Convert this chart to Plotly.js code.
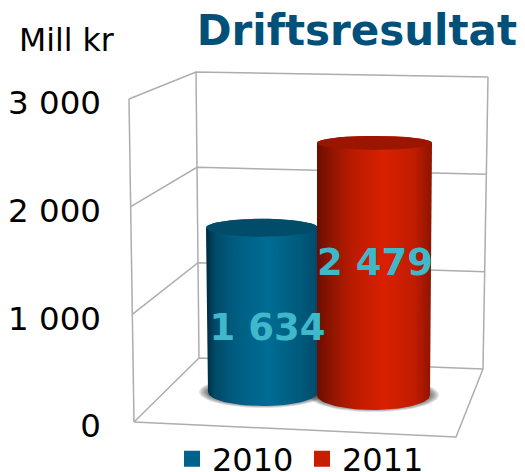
<!DOCTYPE html>
<html><head><meta charset="utf-8">
<script src="https://cdn.plot.ly/plotly-3.0.1.min.js"></script>
<style>html,body{margin:0;padding:0;background:#fff}#c{width:525px;height:472px}</style>
</head><body><div id="c"></div>
<script>
const categories = ['2010', '2011'];
const values = [1634, 2479];
const labelValues = [843, 1447];
const tickValues = [0, 1000, 2000, 3000];
const tickLabels = ['0', '1 000', '2 000', '3 000'];
const swatchColors = ['#00618a', '#c91d00'];
const topColors = ['#004c69', '#9c1500'];
const bodyScales = [
  [[0,'#002a3d'],[0.08,'#004a68'],[0.25,'#005c80'],[0.55,'#006c94'],[0.85,'#005a7c'],[1,'#00496a']],
  [[0,'#6a0d00'],[0.12,'#8f1500'],[0.3,'#b81b00'],[0.58,'#d92000'],[0.85,'#c01c00'],[1,'#8c1300']]
];
// pixel scale of the value axis along the front-left edge
const H = 472, Y0 = 422, K = (422 - 99) / 3000;
const v = px => (Y0 - px) / K;         // stage pixel row -> axis units
// cylinder geometry
const cyl = [
  {base: 392, k: 0.1005, topL: 206, topR: 318, botL: 208, botR: 318, topS: 9, botS: 14},
  {base: 395, k: 0.1017, topL: 317, topR: 432, botL: 317, botR: 430, topS: 7, botS: 15}
];
// wall frame: [x at 0, x at 3000, y at 0, y at 3000]
const FL = [134, 129, 422, 99], BL = [199, 196, 358, 72], BR = [483, 488, 369, 77], FR = [456, 437];
const at = (e, val) => [e[0] + (e[1]-e[0])*val/3000, e[2] + (e[3]-e[2])*val/3000];

const N = 48;
function arc(cx, cy, rx, ry, a0, a1) {
  const pts = [];
  for (let i = 0; i <= N; i++) {
    const a = a0 + (a1-a0)*i/N;
    pts.push([cx + rx*Math.cos(a), cy + ry*Math.sin(a)]);
  }
  return pts;
}
const traces = [];
function line(points, w) {
  traces.push({type:'scatter', mode:'lines', x:points.map(p=>p[0]), y:points.map(p=>v(p[1])),
    line:{color:'#adadad', width:w||1.5}, showlegend:false, hoverinfo:'skip'});
}
// walls, grid
tickValues.forEach(t => line([at(FL,t), at(BL,t), at(BR,t)]));
line([at(FL,0), at(FL,3000)]);
line([at(BL,0), at(BL,3000)]);
line([at(BR,0), at(BR,3000)]);
line([at(FL,0), FR, at(BR,0)]);

// soft shadows
cyl.forEach(c => {
  const cx = (c.botL+c.botR)/2, rx = (c.botR-c.botL)/2;
  for (let i = 0; i < 6; i++) {
    const p = arc(cx, c.base, rx+9-i*1.6, c.botS+2-i*0.7, 0, 2*Math.PI);
    traces.push({type:'scatter', mode:'lines', x:p.map(q=>q[0]), y:p.map(q=>v(q[1])),
      fill:'toself', fillcolor:'rgba(50,50,50,0.14)', line:{width:0}, showlegend:false, hoverinfo:'skip'});
  }
});
// cylinders
categories.forEach((name, i) => {
  const c = cyl[i], topY = c.base - values[i]*c.k;
  const tcx = (c.topL+c.topR)/2, trx = (c.topR-c.topL)/2;
  const bcx = (c.botL+c.botR)/2, brx = (c.botR-c.botL)/2;
  const body = arc(tcx, topY, trx, c.topS, Math.PI, 2*Math.PI).concat(arc(bcx, c.base, brx, c.botS, 0, Math.PI));
  body.push(body[0]);
  traces.push({type:'scatter', mode:'lines', name, x:body.map(p=>p[0]), y:body.map(p=>v(p[1])),
    fill:'toself', fillgradient:{type:'horizontal', colorscale:bodyScales[i]}, line:{width:0},
    showlegend:false, hoverinfo:'skip'});
  const top = arc(tcx, topY, trx, c.topS, 0, 2*Math.PI);
  traces.push({type:'scatter', mode:'lines', x:top.map(p=>p[0]), y:top.map(p=>v(p[1])),
    fill:'toself', fillcolor:topColors[i], line:{width:0}, showlegend:false, hoverinfo:'skip'});
});
// value labels
traces.push({type:'scatter', mode:'text', x:[267.5, 375], y:labelValues,
  text:values.map(n => String(n).replace(/\B(?=(\d{3})+$)/g,' ')), textposition:'middle center',
  textfont:{family:'DejaVu Sans', size:37, color:'#3fb8cb', weight:700}, cliponaxis:false,
  showlegend:false, hoverinfo:'skip'});
// legend entries
categories.forEach((name, i) => traces.push({type:'scatter', mode:'markers', name, x:[null], y:[null],
  marker:{symbol:'square', size:18, color:swatchColors[i]}, hoverinfo:'skip'}));

const layout = {
  width:525, height:H, paper_bgcolor:'#fff', plot_bgcolor:'#fff',
  margin:{l:102, r:0, t:0, b:0, autoexpand:false},
  font:{family:'DejaVu Sans', color:'#000'},
  title:{text:'Driftsresultat', x:517/525, xref:'container', xanchor:'right', y:1-30/H, yref:'container', yanchor:'middle',
    font:{family:'DejaVu Sans', size:42, color:'#00507a', weight:700}},
  xaxis:{range:[102,525], visible:false, fixedrange:true},
  yaxis:{range:[v(H), v(0)], tickvals:tickValues, ticktext:tickLabels, showgrid:false, zeroline:false, showline:false,
    ticks:'', tickfont:{size:32.5, color:'#000'}, ticklabelshift:4, fixedrange:true},
  legend:{orientation:'h', x:(172-102)/423, xanchor:'left', y:13/H, yanchor:'middle', font:{size:32,color:'#000'},
    itemsizing:'trace', entrywidth:85, entrywidthmode:'pixels', bgcolor:'rgba(0,0,0,0)', traceorder:'normal'},
  annotations:[{text:'Mill kr', xref:'paper', yref:'paper', x:(66-102)/423, y:1-40/H, xanchor:'center', yanchor:'middle',
    showarrow:false, font:{size:31.5, color:'#000'}}]
};
Plotly.newPlot('c', traces, layout, {displayModeBar:false, staticPlot:true});
</script></body></html>
